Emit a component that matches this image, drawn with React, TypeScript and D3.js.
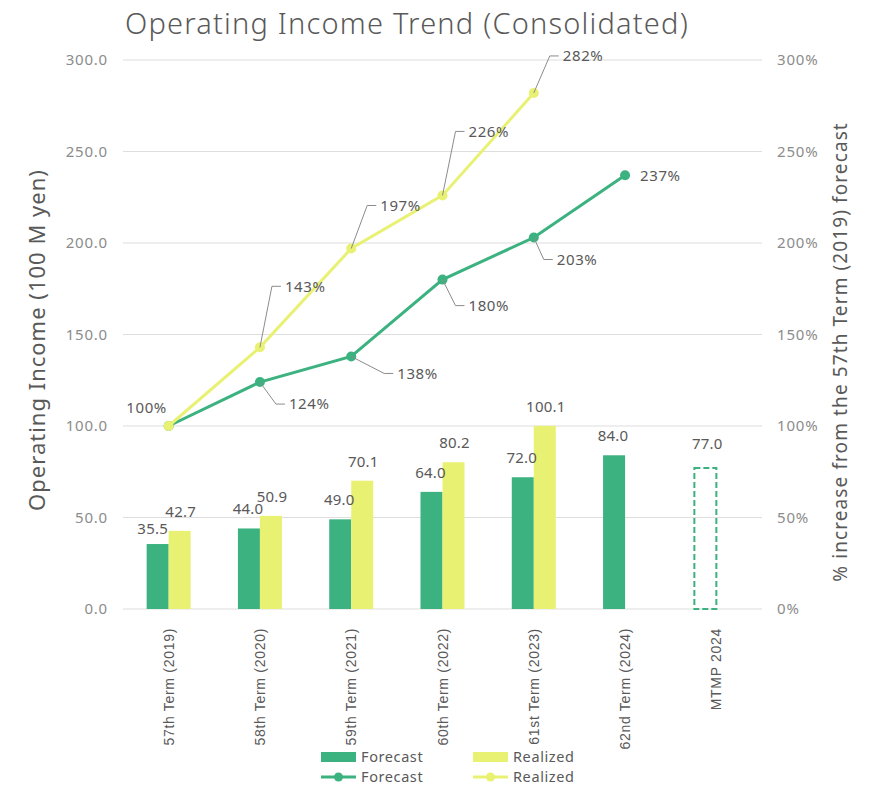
import React, { useEffect, useRef } from 'react';
import * as d3 from 'd3';

// chart data
const categories = [
  '57th Term (2019)',
  '58th Term (2020)',
  '59th Term (2021)',
  '60th Term (2022)',
  '61st Term (2023)',
  '62nd Term (2024)',
  'MTMP 2024',
];
const forecastBars = [35.5, 44.0, 49.0, 64.0, 72.0, 84.0];
const mtmpTarget = 77.0;
const realizedBars = [42.7, 50.9, 70.1, 80.2, 100.1];
const forecastPct = [100, 124, 138, 180, 203, 237];
const realizedPct = [100, 143, 197, 226, 282];
const leftTicks = [0, 50, 100, 150, 200, 250, 300];
const rightTicks = [0, 50, 100, 150, 200, 250, 300];

// label placement (leader elbow offsets from point, null = no leader)
const realizedLabelOffsets: ([number, number] | null)[] = [null, [12, -61], [16, -43], [13, -64], [16, -37]];
const forecastLabelOffsets: ([number, number] | null)[] = [null, [16, 22], [33, 17], [13, 26], [10, 22], null];

const GREEN = '#3bb27f';
const YELLOW = '#e9f173';
const TEXT = '#595959';
const TICK = '#8c8c8c';
const FONT = "'Noto Sans', sans-serif";

const W = 869;
const H = 787;

const App: React.FC = () => {
  const svgRef = useRef<SVGSVGElement>(null);

  useEffect(() => {
    if (!svgRef.current) return;
    const svg = d3.select(svgRef.current);
    svg.selectAll('*').remove();

    const x = d3.scaleBand<string>().domain(categories).range([123, 762]);
    const y = d3.scaleLinear().domain([0, 300]).range([609, 60]);
    const yR = d3.scaleLinear().domain([0, 300]).range([609, 60]);
    const cx = (i: number) => (x(categories[i]) || 0) + x.bandwidth() / 2;
    const barW = 22;

    // title
    svg.append('text')
      .attr('x', 125).attr('y', 34)
      .style('font-family', FONT).style('font-size', '29px')
      .style('font-weight', 300).style('letter-spacing', '1.2px')
      .style('fill', TEXT)
      .text('Operating Income Trend (Consolidated)');

    // gridlines
    svg.append('g').selectAll('line').data(leftTicks).join('line')
      .attr('x1', 123).attr('x2', 762)
      .attr('y1', d => y(d)).attr('y2', d => y(d))
      .style('stroke', '#dedede').style('stroke-width', 1.2);

    // left ticks
    svg.append('g').selectAll('text').data(leftTicks).join('text')
      .attr('x', 108).attr('y', d => y(d)).attr('dy', '0.35em')
      .attr('text-anchor', 'end')
      .style('font-family', FONT).style('font-size', '15px').style('letter-spacing', '0.8px').style('fill', TICK)
      .text(d => d3.format('.1f')(d));

    // right ticks
    svg.append('g').selectAll('text').data(rightTicks).join('text')
      .attr('x', 777).attr('y', d => yR(d)).attr('dy', '0.35em')
      .style('font-family', FONT).style('font-size', '15px').style('letter-spacing', '0.8px').style('fill', TICK)
      .text(d => `${d}%`);

    // axis titles
    svg.append('text')
      .attr('transform', 'translate(45,340) rotate(-90)')
      .attr('text-anchor', 'middle')
      .style('font-family', FONT).style('font-size', '22px').style('letter-spacing', '1px').style('fill', TEXT)
      .text('Operating Income (100 M yen)');
    svg.append('text')
      .attr('transform', 'translate(847,352) rotate(-90)')
      .attr('text-anchor', 'middle')
      .style('font-family', FONT).style('font-size', '19px').style('letter-spacing', '1.1px').style('fill', TEXT)
      .text('% increase from the 57th Term (2019) forecast');

    // bars
    svg.append('g').selectAll('rect').data(forecastBars).join('rect')
      .attr('x', (d, i) => cx(i) - barW).attr('width', barW)
      .attr('y', d => y(d)).attr('height', d => y(0) - y(d))
      .style('fill', GREEN);
    svg.append('g').selectAll('rect').data(realizedBars).join('rect')
      .attr('x', (d, i) => cx(i)).attr('width', barW)
      .attr('y', d => y(d)).attr('height', d => y(0) - y(d))
      .style('fill', YELLOW);
    svg.append('rect')
      .attr('x', cx(6) - barW).attr('width', barW)
      .attr('y', y(mtmpTarget)).attr('height', y(0) - y(mtmpTarget))
      .style('fill', 'none').style('stroke', GREEN).style('stroke-width', 2)
      .style('stroke-dasharray', '6,3');

    const labelStyle = (t: d3.Selection<SVGTextElement, unknown, null, undefined>, ls = '0.6px') =>
      t.style('font-family', FONT).style('font-size', '15px').style('letter-spacing', ls).style('fill', TEXT);

    // bar labels
    const barLabel = (v: number, bx: number, dx = 0, dy = 0) => {
      labelStyle(svg.append('text')
        .attr('x', bx + dx).attr('y', y(v) - 14 + dy)
        .attr('text-anchor', 'middle'), '0.2px')
        .text(d3.format('.1f')(v));
    };
    forecastBars.forEach((v, i) => barLabel(v, cx(i) - barW / 2, i === 0 ? -5 : -1, i === 0 ? 4 : 0));
    realizedBars.forEach((v, i) => barLabel(v, cx(i) + barW / 2, 1));
    barLabel(mtmpTarget, cx(6) - barW / 2 + 2, 0, -5);

    // lines
    const line = d3.line<number>().x((d, i) => cx(i)).y(d => yR(d));
    svg.append('path').datum(forecastPct)
      .attr('d', line)
      .style('fill', 'none').style('stroke', GREEN).style('stroke-width', 3);
    svg.append('g').selectAll('circle').data(forecastPct).join('circle')
      .attr('cx', (d, i) => cx(i)).attr('cy', d => yR(d)).attr('r', 5)
      .style('fill', GREEN);
    svg.append('path').datum(realizedPct)
      .attr('d', line)
      .style('fill', 'none').style('stroke', YELLOW).style('stroke-width', 3);
    svg.append('g').selectAll('circle').data(realizedPct).join('circle')
      .attr('cx', (d, i) => cx(i)).attr('cy', d => yR(d)).attr('r', 5)
      .style('fill', YELLOW);

    // line labels with leaders
    const leaderLabel = (v: number, i: number, off: [number, number]) => {
      const px = cx(i), py = yR(v);
      const ex = px + off[0], ey = py + off[1];
      svg.append('polyline')
        .attr('points', `${px},${py} ${ex},${ey} ${ex + 9},${ey}`)
        .style('fill', 'none').style('stroke', '#8c8c8c').style('stroke-width', 1);
      labelStyle(svg.append('text')
        .attr('x', ex + 13).attr('y', ey).attr('dy', '0.35em'))
        .text(`${v}%`);
    };
    realizedPct.forEach((v, i) => { const o = realizedLabelOffsets[i]; if (o) leaderLabel(v, i, o); });
    forecastPct.forEach((v, i) => { const o = forecastLabelOffsets[i]; if (o) leaderLabel(v, i, o); });
    labelStyle(svg.append('text')
      .attr('x', cx(0) - 22).attr('y', yR(realizedPct[0]) - 18).attr('dy', '0.35em')
      .attr('text-anchor', 'middle'))
      .text(`${realizedPct[0]}%`);
    const last = forecastPct.length - 1;
    labelStyle(svg.append('text')
      .attr('x', cx(last) + 15).attr('y', yR(forecastPct[last])).attr('dy', '0.35em'))
      .text(`${forecastPct[last]}%`);

    // category labels
    svg.append('g').selectAll('text').data(categories).join('text')
      .attr('transform', (d, i) => `translate(${cx(i) + 5},628) rotate(-90)`)
      .attr('text-anchor', 'end')
      .style('font-family', "'Liberation Sans', Arial, sans-serif")
      .style('font-size', '14px').style('letter-spacing', '0.7px').style('fill', TEXT)
      .text(d => d);

    // legend
    const lg = svg.append('g').style('font-family', FONT).style('font-size', '14.5px').style('letter-spacing', '0.6px');
    const items = [
      { label: 'Forecast', color: GREEN, kind: 'bar', lx: 321, ly: 757 },
      { label: 'Realized', color: YELLOW, kind: 'bar', lx: 473, ly: 757 },
      { label: 'Forecast', color: GREEN, kind: 'line', lx: 321, ly: 777 },
      { label: 'Realized', color: YELLOW, kind: 'line', lx: 473, ly: 777 },
    ];
    items.forEach(it => {
      if (it.kind === 'bar') {
        lg.append('rect').attr('x', it.lx).attr('y', it.ly - 5).attr('width', 35).attr('height', 10)
          .style('fill', it.color);
      } else {
        lg.append('line').attr('x1', it.lx).attr('x2', it.lx + 35).attr('y1', it.ly).attr('y2', it.ly)
          .style('stroke', it.color).style('stroke-width', 3);
        lg.append('circle').attr('cx', it.lx + 17.5).attr('cy', it.ly).attr('r', 4.5).style('fill', it.color);
      }
      lg.append('text').attr('x', it.lx + 40).attr('y', it.ly).attr('dy', '0.35em')
        .style('fill', TEXT).text(it.label);
    });
  }, []);

  return (
    <svg
      ref={svgRef}
      width={W}
      height={H}
      style={{ position: 'absolute', left: 0, top: 0, background: '#fff' }}
    />
  );
};

export default App;
